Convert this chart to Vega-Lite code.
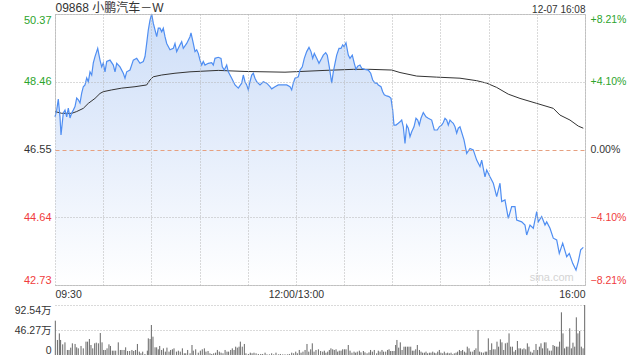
{
  "$schema": "https://vega.github.io/schema/vega-lite/v6.json",
  "background": "white",
  "padding": {"left": 14, "top": 0, "right": 0, "bottom": 0},
  "spacing": 20,
  "bounds": "flush",
  "config": {
    "font": "Liberation Sans, Noto Sans CJK SC",
    "view": {"stroke": "#cccccc"},
    "axis": {"labelFont": "Liberation Sans, Noto Sans CJK SC", "labelColor": "#333333", "title": null}
  },
  "datasets": {
    "price": [
      {"t":0,"p":47.47},{"t":1.06,"p":47.66},{"t":2.05,"p":47.97},{"t":3.11,"p":47.47},{"t":3.74,"p":46.96},{"t":5.17,"p":47.58},{"t":6.23,"p":47.66},{"t":7.28,"p":47.47},{"t":8.28,"p":47.72},{"t":9.34,"p":47.44},{"t":10.4,"p":47.58},{"t":11.39,"p":47.66},{"t":12.45,"p":47.76},{"t":13.51,"p":48.0},{"t":14.51,"p":47.95},{"t":15.57,"p":47.86},{"t":16.62,"p":48.14},{"t":17.62,"p":48.32},{"t":18.68,"p":48.37},{"t":19.74,"p":48.57},{"t":20.73,"p":48.46},{"t":21.79,"p":48.74},{"t":22.85,"p":48.65},{"t":23.85,"p":48.99},{"t":24.9,"p":49.17},{"t":26.59,"p":49.4},{"t":28.02,"p":49.07},{"t":29.08,"p":48.88},{"t":30.07,"p":48.99},{"t":31.13,"p":48.74},{"t":32.19,"p":49.03},{"t":34.24,"p":49.07},{"t":36.3,"p":48.93},{"t":37.36,"p":48.74},{"t":38.42,"p":48.98},{"t":40.47,"p":48.88},{"t":42.53,"p":48.7},{"t":43.58,"p":48.56},{"t":44.64,"p":48.74},{"t":46.7,"p":48.79},{"t":48.75,"p":49.07},{"t":50.87,"p":49.12},{"t":52.92,"p":48.98},{"t":54.98,"p":49.03},{"t":56.04,"p":49.17},{"t":57.09,"p":49.54},{"t":58.09,"p":49.92},{"t":59.15,"p":50.2},{"t":60.21,"p":50.37},{"t":61.2,"p":50.11},{"t":62.26,"p":49.92},{"t":63.32,"p":49.73},{"t":64.32,"p":49.97},{"t":65.38,"p":49.97},{"t":66.43,"p":49.87},{"t":67.43,"p":49.97},{"t":68.49,"p":49.73},{"t":69.55,"p":49.54},{"t":71.6,"p":49.36},{"t":73.66,"p":49.4},{"t":74.71,"p":49.54},{"t":75.77,"p":49.31},{"t":77.83,"p":49.5},{"t":78.89,"p":49.59},{"t":79.88,"p":49.4},{"t":82.0,"p":49.54},{"t":84.05,"p":49.73},{"t":84.68,"p":49.84},{"t":86.11,"p":49.54},{"t":87.17,"p":49.31},{"t":88.23,"p":49.36},{"t":89.22,"p":49.26},{"t":90.28,"p":49.07},{"t":91.34,"p":48.93},{"t":92.33,"p":49.03},{"t":93.39,"p":48.93},{"t":95.45,"p":48.98},{"t":97.56,"p":49.0},{"t":98.56,"p":48.93},{"t":99.62,"p":49.12},{"t":101.67,"p":49.15},{"t":103.36,"p":49.12},{"t":104.17,"p":48.88},{"t":105.41,"p":48.79},{"t":106.91,"p":48.93},{"t":107.9,"p":48.74},{"t":110.02,"p":48.56},{"t":112.07,"p":48.37},{"t":114.13,"p":48.28},{"t":116.24,"p":48.42},{"t":117.24,"p":48.65},{"t":118.3,"p":48.46},{"t":119.36,"p":48.37},{"t":120.35,"p":48.23},{"t":121.41,"p":48.46},{"t":122.47,"p":48.65},{"t":123.47,"p":48.7},{"t":124.52,"p":48.56},{"t":125.58,"p":48.46},{"t":127.64,"p":48.37},{"t":129.69,"p":48.46},{"t":131.81,"p":48.42},{"t":133.86,"p":48.32},{"t":134.92,"p":48.26},{"t":136.98,"p":48.32},{"t":139.03,"p":48.37},{"t":142.15,"p":48.37},{"t":144.26,"p":48.37},{"t":146.32,"p":48.32},{"t":147.37,"p":48.23},{"t":148.37,"p":48.42},{"t":149.43,"p":48.56},{"t":151.48,"p":48.6},{"t":152.54,"p":48.79},{"t":153.97,"p":48.88},{"t":155.22,"p":49.12},{"t":156.71,"p":49.31},{"t":158.15,"p":49.43},{"t":159.39,"p":49.31},{"t":160.45,"p":49.12},{"t":161.45,"p":49.26},{"t":162.94,"p":49.12},{"t":164.37,"p":48.98},{"t":166.05,"p":49.12},{"t":167.05,"p":49.21},{"t":168.54,"p":49.28},{"t":169.54,"p":49.21},{"t":170.79,"p":48.88},{"t":172.28,"p":48.42},{"t":173.28,"p":48.74},{"t":174.34,"p":48.98},{"t":175.39,"p":49.21},{"t":176.83,"p":49.4},{"t":178.07,"p":49.4},{"t":179.13,"p":49.5},{"t":179.94,"p":49.45},{"t":181.18,"p":49.56},{"t":182.62,"p":49.21},{"t":183.67,"p":49.12},{"t":185.11,"p":49.21},{"t":186.35,"p":48.98},{"t":187.41,"p":48.81},{"t":188.47,"p":48.9},{"t":189.9,"p":48.93},{"t":190.96,"p":48.84},{"t":193.01,"p":48.81},{"t":195.07,"p":48.79},{"t":196.56,"p":48.7},{"t":197.81,"p":48.51},{"t":199.24,"p":48.42},{"t":200.3,"p":48.43},{"t":201.3,"p":48.37},{"t":202.98,"p":48.32},{"t":204.04,"p":48.18},{"t":205.03,"p":48.09},{"t":206.53,"p":48.06},{"t":207.96,"p":48.04},{"t":209.2,"p":47.99},{"t":210.26,"p":47.66},{"t":211.07,"p":47.24},{"t":212.32,"p":47.24},{"t":213.75,"p":47.29},{"t":214.81,"p":47.33},{"t":215.87,"p":47.38},{"t":216.86,"p":47.19},{"t":217.92,"p":46.72},{"t":218.98,"p":47.24},{"t":219.98,"p":47.15},{"t":221.03,"p":46.91},{"t":222.09,"p":47.05},{"t":223.52,"p":47.19},{"t":224.77,"p":47.43},{"t":225.83,"p":47.38},{"t":226.82,"p":47.24},{"t":227.88,"p":47.43},{"t":229.31,"p":47.59},{"t":230.99,"p":47.47},{"t":232.42,"p":47.43},{"t":234.54,"p":47.38},{"t":236.16,"p":47.1},{"t":238.03,"p":47.1},{"t":239.27,"p":47.19},{"t":240.77,"p":47.24},{"t":241.77,"p":47.31},{"t":242.82,"p":47.43},{"t":243.88,"p":47.38},{"t":244.88,"p":47.24},{"t":245.94,"p":47.38},{"t":246.99,"p":47.33},{"t":247.99,"p":47.29},{"t":249.05,"p":47.19},{"t":250.11,"p":47.01},{"t":251.1,"p":47.15},{"t":252.16,"p":47.19},{"t":254.66,"p":46.82},{"t":256.34,"p":46.44},{"t":258.4,"p":46.58},{"t":260.44,"p":46.54},{"t":262.56,"p":46.25},{"t":264.62,"p":46.07},{"t":265.67,"p":46.25},{"t":266.67,"p":46.02},{"t":267.73,"p":45.78},{"t":268.79,"p":45.97},{"t":270.84,"p":45.78},{"t":272.9,"p":45.6},{"t":275.01,"p":45.22},{"t":277.07,"p":45.6},{"t":278.13,"p":45.08},{"t":280.18,"p":45.13},{"t":282.24,"p":44.61},{"t":284.35,"p":44.94},{"t":286.41,"p":44.94},{"t":287.47,"p":44.56},{"t":290.58,"p":44.51},{"t":292.63,"p":44.42},{"t":293.69,"p":44.14},{"t":295.75,"p":44.42},{"t":297.8,"p":44.33},{"t":299.92,"p":44.8},{"t":300.92,"p":44.51},{"t":303.03,"p":44.66},{"t":305.09,"p":44.42},{"t":306.15,"p":44.51},{"t":308.2,"p":44.33},{"t":310.26,"p":44.05},{"t":312.37,"p":44.0},{"t":313.99,"p":43.62},{"t":316.11,"p":43.91},{"t":318.6,"p":43.53},{"t":320.22,"p":43.62},{"t":322.34,"p":43.34},{"t":324.39,"p":43.15},{"t":325.82,"p":43.39},{"t":327.32,"p":43.72},{"t":328.94,"p":43.79}
    ],
    "avg": [
      {"t":0,"a":47.62},{"t":4.17,"a":47.57},{"t":10.4,"a":47.57},{"t":13.51,"a":47.62},{"t":17.62,"a":47.71},{"t":20.73,"a":47.85},{"t":24.9,"a":47.99},{"t":28.02,"a":48.13},{"t":30.07,"a":48.18},{"t":35.3,"a":48.23},{"t":41.53,"a":48.28},{"t":49.81,"a":48.32},{"t":57.09,"a":48.37},{"t":59.15,"a":48.51},{"t":61.2,"a":48.6},{"t":66.43,"a":48.65},{"t":74.71,"a":48.7},{"t":84.05,"a":48.74},{"t":101.67,"a":48.78},{"t":118.3,"a":48.75},{"t":143.2,"a":48.73},{"t":168.11,"a":48.78},{"t":185.73,"a":48.81},{"t":196.13,"a":48.81},{"t":209.64,"a":48.79},{"t":214.81,"a":48.72},{"t":225.21,"a":48.62},{"t":237.66,"a":48.59},{"t":252.16,"a":48.56},{"t":262.56,"a":48.49},{"t":268.79,"a":48.42},{"t":275.01,"a":48.3},{"t":282.24,"a":48.11},{"t":289.52,"a":47.99},{"t":299.92,"a":47.85},{"t":310.26,"a":47.71},{"t":314.43,"a":47.52},{"t":320.65,"a":47.38},{"t":325.82,"a":47.21},{"t":328.94,"a":47.15}
    ],
    "vol": [
      {"t":0.2,"v":63.5},{"t":1.5,"v":27.8},{"t":2.7,"v":40},{"t":3.5,"v":27.8},{"t":4.8,"v":19.7},{"t":6.2,"v":23.4},{"t":7.7,"v":9.3},{"t":8.7,"v":9.3},{"t":9.8,"v":13.6},{"t":10.8,"v":21.6},{"t":12.5,"v":20.4},{"t":13.5,"v":14.2},{"t":14.5,"v":12.3},{"t":16.2,"v":16.7},{"t":17.6,"v":12.3},{"t":19.3,"v":24.7},{"t":20.3,"v":24.7},{"t":21.4,"v":29.6},{"t":22.4,"v":18.5},{"t":23.5,"v":12.3},{"t":24.7,"v":21.6},{"t":25.7,"v":22.8},{"t":27.0,"v":21.6},{"t":28.2,"v":40.7},{"t":29.3,"v":23.4},{"t":30.3,"v":9.3},{"t":31.3,"v":9.3},{"t":32.4,"v":12.3},{"t":33.6,"v":19.7},{"t":34.5,"v":16.7},{"t":35.7,"v":8},{"t":36.7,"v":8},{"t":37.8,"v":8},{"t":39.4,"v":23.4},{"t":40.7,"v":9.3},{"t":41.7,"v":9.3},{"t":43.0,"v":9.3},{"t":44.0,"v":14.2},{"t":45.2,"v":7.4},{"t":46.5,"v":7.4},{"t":47.9,"v":9.3},{"t":49.0,"v":7.4},{"t":50.2,"v":9.3},{"t":51.3,"v":20.4},{"t":52.5,"v":6.2},{"t":53.5,"v":3.1},{"t":54.6,"v":6.2},{"t":56.0,"v":1.9},{"t":57.5,"v":8},{"t":58.1,"v":30.8},{"t":59.2,"v":29.6},{"t":60.0,"v":55.5},{"t":61.0,"v":33.9},{"t":62.3,"v":14.2},{"t":63.3,"v":14.2},{"t":64.3,"v":10.5},{"t":65.2,"v":16.7},{"t":66.4,"v":9.3},{"t":67.5,"v":12.3},{"t":68.7,"v":6.2},{"t":69.7,"v":13.6},{"t":71.0,"v":6.2},{"t":72.0,"v":9.3},{"t":73.1,"v":10.5},{"t":74.1,"v":12.3},{"t":75.6,"v":6.2},{"t":76.8,"v":8},{"t":78.0,"v":6.2},{"t":79.3,"v":12.3},{"t":80.5,"v":3.1},{"t":81.4,"v":3.1},{"t":82.6,"v":9.3},{"t":84.1,"v":3.1},{"t":85.3,"v":18.5},{"t":86.1,"v":8},{"t":87.6,"v":10.5},{"t":89.2,"v":4.3},{"t":90.5,"v":8},{"t":91.7,"v":10.5},{"t":93.0,"v":12.3},{"t":94.0,"v":6.2},{"t":95.3,"v":7.4},{"t":96.5,"v":3.1},{"t":97.6,"v":1.9},{"t":98.8,"v":3.1},{"t":100.0,"v":4.3},{"t":101.1,"v":9.3},{"t":102.3,"v":6.2},{"t":103.4,"v":4.3},{"t":104.6,"v":3.1},{"t":105.9,"v":9.3},{"t":107.1,"v":6.2},{"t":108.1,"v":6.2},{"t":109.4,"v":9.3},{"t":110.4,"v":12.3},{"t":111.5,"v":9.3},{"t":112.5,"v":15.4},{"t":113.5,"v":13.6},{"t":114.6,"v":15.4},{"t":115.4,"v":24.7},{"t":116.6,"v":15.4},{"t":117.9,"v":20.4},{"t":118.9,"v":3.1},{"t":120.4,"v":1.9},{"t":121.6,"v":4.3},{"t":122.7,"v":3.1},{"t":123.9,"v":4.3},{"t":125.2,"v":3.1},{"t":126.6,"v":1.9},{"t":128.1,"v":1.9},{"t":129.3,"v":1.9},{"t":130.8,"v":4.3},{"t":132.0,"v":1.2},{"t":133.5,"v":1.2},{"t":134.9,"v":3.1},{"t":136.2,"v":1.2},{"t":137.6,"v":4.3},{"t":139.1,"v":1.2},{"t":140.3,"v":1.9},{"t":141.8,"v":1.2},{"t":143.2,"v":1.2},{"t":144.7,"v":1.2},{"t":145.9,"v":1.9},{"t":147.4,"v":4.3},{"t":148.6,"v":3.1},{"t":149.9,"v":6.2},{"t":150.9,"v":3.1},{"t":152.1,"v":9.3},{"t":153.2,"v":4.3},{"t":154.4,"v":6.2},{"t":155.7,"v":9.3},{"t":156.9,"v":20.4},{"t":158.0,"v":6.2},{"t":159.2,"v":10.5},{"t":160.2,"v":21.6},{"t":161.3,"v":6.2},{"t":162.5,"v":9.3},{"t":164.0,"v":10.5},
      {"t":165.4,"v":7.4},{"t":166.7,"v":6.2},{"t":167.7,"v":8},{"t":168.7,"v":4.3},{"t":169.8,"v":6.2},{"t":170.8,"v":9.3},{"t":171.8,"v":12.3},{"t":172.9,"v":10.5},{"t":173.9,"v":9.3},{"t":175.0,"v":10.5},{"t":176.0,"v":6.2},{"t":177.0,"v":8},{"t":178.1,"v":8},{"t":179.1,"v":10.5},{"t":180.2,"v":10.5},{"t":181.2,"v":10.5},{"t":182.6,"v":18.5},{"t":183.7,"v":8},{"t":184.9,"v":4.3},{"t":186.2,"v":6.2},{"t":187.2,"v":4.3},{"t":188.2,"v":6.2},{"t":189.5,"v":8},{"t":190.5,"v":4.9},{"t":192.0,"v":7.4},{"t":193.0,"v":4.9},{"t":194.3,"v":3.1},{"t":195.5,"v":4.9},{"t":196.5,"v":9.3},{"t":197.6,"v":6.2},{"t":198.8,"v":9.3},{"t":200.3,"v":3.1},{"t":201.3,"v":8},{"t":202.4,"v":6.2},{"t":203.6,"v":9.3},{"t":204.6,"v":6.2},{"t":205.9,"v":6.2},{"t":207.1,"v":9.3},{"t":208.0,"v":10.5},{"t":209.0,"v":7.4},{"t":210.0,"v":7.4},{"t":211.1,"v":7.4},{"t":212.1,"v":18.5},{"t":212.9,"v":27.8},{"t":214.0,"v":13.6},{"t":215.0,"v":23.4},{"t":216.1,"v":9.3},{"t":217.3,"v":15.4},{"t":218.3,"v":15.4},{"t":219.4,"v":15.4},{"t":220.4,"v":15.4},{"t":221.5,"v":15.4},{"t":222.5,"v":8},{"t":223.5,"v":8},{"t":224.6,"v":10.5},{"t":225.6,"v":18.5},{"t":226.9,"v":9.3},{"t":227.9,"v":6.2},{"t":228.9,"v":4.3},{"t":230.0,"v":4.3},{"t":231.0,"v":6.2},{"t":232.0,"v":3.1},{"t":233.1,"v":4.3},{"t":234.1,"v":4.3},{"t":235.2,"v":6.2},{"t":236.2,"v":4.3},{"t":237.2,"v":3.1},{"t":238.3,"v":6.2},{"t":239.3,"v":9.3},{"t":240.3,"v":4.3},{"t":241.4,"v":3.1},{"t":242.4,"v":6.2},{"t":243.5,"v":3.1},{"t":244.5,"v":4.3},{"t":245.5,"v":3.1},{"t":246.6,"v":4.3},{"t":247.6,"v":1.2},{"t":248.6,"v":3.1},{"t":249.7,"v":4.3},{"t":250.7,"v":6.2},{"t":251.8,"v":9.3},{"t":252.8,"v":7.4},{"t":253.8,"v":9.3},{"t":254.9,"v":6.2},{"t":255.9,"v":4.3},{"t":256.7,"v":15.4},{"t":257.8,"v":12.3},{"t":258.8,"v":6.2},{"t":260.1,"v":6.2},{"t":261.1,"v":9.3},{"t":262.1,"v":12.3},{"t":263.4,"v":46.3},{"t":264.4,"v":6.2},{"t":265.5,"v":4.9},{"t":266.7,"v":4.3},{"t":267.9,"v":6.2},{"t":268.8,"v":6.2},{"t":269.8,"v":30.8},{"t":270.9,"v":9.3},{"t":271.9,"v":21.6},{"t":272.9,"v":10.5},{"t":274.0,"v":10.5},{"t":275.2,"v":24.7},{"t":276.2,"v":15.4},{"t":277.3,"v":29},{"t":278.3,"v":23.4},{"t":279.4,"v":9.3},{"t":280.4,"v":21.6},{"t":281.6,"v":22.8},{"t":282.7,"v":40},{"t":283.7,"v":15.4},{"t":284.8,"v":15.4},{"t":285.8,"v":6.2},{"t":286.8,"v":9.3},{"t":287.9,"v":25.9},{"t":288.9,"v":12.3},{"t":289.9,"v":12.3},{"t":291.0,"v":10.5},{"t":292.0,"v":12.3},{"t":293.1,"v":10.5},{"t":294.1,"v":21.6},{"t":295.1,"v":15.4},{"t":296.2,"v":6.2},{"t":297.2,"v":4.3},{"t":298.2,"v":9.3},{"t":299.5,"v":20.4},{"t":300.5,"v":9.3},{"t":301.6,"v":15.4},{"t":302.6,"v":21.6},{"t":303.6,"v":12.3},{"t":304.7,"v":23.4},{"t":305.7,"v":23.4},{"t":306.8,"v":12.3},{"t":307.8,"v":8},{"t":309.0,"v":8},{"t":310.1,"v":18.5},{"t":311.1,"v":16.7},{"t":312.2,"v":15.4},{"t":313.2,"v":15.4},{"t":314.2,"v":24.7},{"t":315.3,"v":79},{"t":316.3,"v":40},{"t":317.3,"v":12.3},{"t":318.4,"v":15.4},{"t":319.4,"v":15.4},{"t":320.5,"v":49.4},{"t":321.5,"v":12.3},{"t":322.5,"v":22.8},{"t":323.6,"v":15.4},{"t":324.6,"v":69.7},{"t":325.6,"v":40},{"t":326.7,"v":44.4},{"t":327.7,"v":15.4},{"t":328.8,"v":12.3},{"t":329.8,"v":92.5}
    ]
  },
  "vconcat": [
    {
      "width": 530,
      "height": 271,
      "layer": [
        {
          "data": {"name": "price"},
          "mark": {
            "type": "area",
            "stroke": null,
            "fill": {"gradient": "linear", "x1": 0, "y1": 0, "x2": 0, "y2": 1,
              "stops": [{"offset": 0, "color": "#cddef8"}, {"offset": 0.45, "color": "#e3ecfb"}, {"offset": 1, "color": "#ffffff"}]}
          },
          "encoding": {
            "x": {"field": "t", "type": "quantitative", "scale": {"domain": [0, 330], "nice": false, "zero": false}, "axis": null},
            "y": {"field": "p", "type": "quantitative", "stack": null, "scale": {"domain": [42.73, 50.37], "nice": false, "zero": false},
              "axis": {"orient": "left", "values": [42.73, 44.64, 46.55, 48.46, 50.37], "zindex": 1,
                "labelExpr": "format(datum.value, '.2f')", "labelFlush": true, "labelOverlap": false,
                "ticks": false, "domain": false, "grid": true, "gridWidth": 1, "gridOpacity": 1, "labelPadding": 4, "labelFontSize": 11,
                "labelColor": {"condition": [{"test": "datum.value > 46.6", "value": "#2ca42c"}, {"test": "datum.value < 46.5", "value": "#f03c3c"}], "value": "#333333"},
                "gridColor": {"condition": {"test": "abs(datum.value - 46.55) < 0.001", "value": "#e6a080"}, "value": "#b4b4b4"},
                "gridDash": {"condition": {"test": "abs(datum.value - 46.55) < 0.001", "value": [4, 3]}, "value": [1, 2]}}},
            "y2": {"datum": 42.73}
          }
        },
        {
          "data": {"name": "avg"},
          "mark": {"type": "line", "color": "#333333", "strokeWidth": 1},
          "encoding": {
            "x": {"field": "t", "type": "quantitative", "axis": null},
            "y": {"field": "a", "type": "quantitative", "axis": null}
          }
        },
        {
          "data": {"name": "price"},
          "mark": {"type": "line", "color": "#4f8ef2", "strokeWidth": 1.2},
          "encoding": {
            "x": {"field": "t", "type": "quantitative",
              "axis": {"orient": "top", "values": [0, 30, 60, 90, 120, 150, 180, 210, 240, 270, 300, 330], "zindex": 1,
                "labelExpr": "datum.value == 0 ? '09868 小鹏汽车－W' : (datum.value == 330 ? '12-07 16:08' : '')",
                "labelFlush": true, "labelOverlap": false, "ticks": false, "domain": false,
                "grid": true, "gridColor": "#b4b4b4", "gridDash": [1, 2], "gridWidth": 1, "gridOpacity": 1,
                "labelPadding": 0,
                "labelFontSize": {"condition": {"test": "datum.value == 0", "value": 12}, "value": 10}}},
            "y": {"field": "p", "type": "quantitative",
              "axis": {"orient": "right", "values": [42.73, 44.64, 46.55, 48.46, 50.37],
                "labelExpr": "(datum.value / 46.55 - 1 > 0.0001 ? '+' : '') + format((datum.value / 46.55 - 1) * 100, '.2f') + '%'",
                "labelFlush": true, "labelOverlap": false, "ticks": false, "domain": false, "grid": false,
                "labelPadding": 5, "labelFontSize": 10.5,
                "labelColor": {"condition": [{"test": "datum.value > 46.6", "value": "#2ca42c"}, {"test": "datum.value < 46.5", "value": "#f03c3c"}], "value": "#333333"}}}
          }
        },
        {
          "data": {"values": [{}]},
          "mark": {"type": "text", "text": "sina.com", "color": "#d4d4d4", "fontSize": 11, "align": "right", "baseline": "bottom"},
          "encoding": {
            "x": {"datum": 323, "type": "quantitative", "axis": null},
            "y": {"datum": 42.78, "type": "quantitative", "axis": null}
          }
        }
      ],
      "resolve": {"axis": {"x": "independent", "y": "independent"}}
    },
    {
      "width": 530,
      "height": 50,
      "view": {"stroke": null},
      "data": {"name": "vol"},
      "mark": {"type": "rule", "color": "#666666", "strokeWidth": 1},
      "encoding": {
        "x": {"field": "t", "type": "quantitative", "scale": {"domain": [0, 330], "nice": false, "zero": false},
          "axis": {"orient": "top", "values": [0, 150, 330],
            "labelExpr": "datum.value == 0 ? '09:30' : (datum.value == 150 ? '12:00/13:00' : '16:00')",
            "labelFlush": true, "labelOverlap": false, "ticks": false, "domain": false, "grid": false,
            "labelPadding": 6, "labelFontSize": 10.5}},
        "y": {"field": "v", "type": "quantitative", "scale": {"domain": [0, 92.54], "nice": false},
          "axis": {"values": [0, 46.27, 92.54],
            "labelExpr": "datum.value == 0 ? '0' : format(datum.value, '.2f') + '万'",
            "labelFlush": true, "labelOverlap": false, "ticks": false, "domain": false, "grid": true,
            "gridColor": {"condition": {"test": "datum.value == 0", "value": "transparent"}, "value": "#b4b4b4"},
            "gridDash": [1, 2], "gridWidth": 1, "gridOpacity": 1, "labelPadding": 4, "labelFontSize": 10.5}},
        "y2": {"datum": 0}
      }
    }
  ]
}
